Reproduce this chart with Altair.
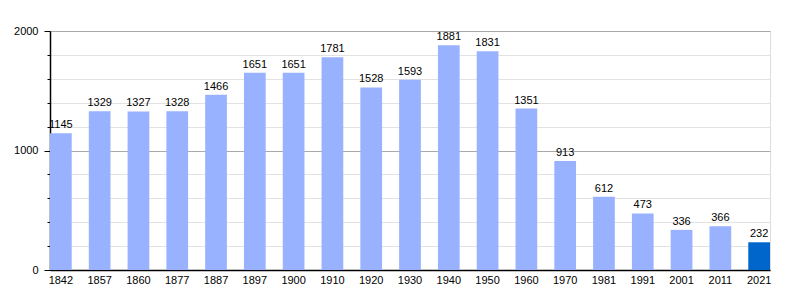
import altair as alt
import pandas as pd

years = ["1842", "1857", "1860", "1877", "1887", "1897", "1900", "1910", "1920", "1930",
         "1940", "1950", "1960", "1970", "1981", "1991", "2001", "2011", "2021"]
population = [1145, 1329, 1327, 1328, 1466, 1651, 1651, 1781, 1528, 1593,
              1881, 1831, 1351, 913, 612, 473, 336, 366, 232]
highlight = [False] * 18 + [True]
y_tick_values = [0, 200, 400, 600, 800, 1000, 1200, 1400, 1600, 1800, 2000]

df = pd.DataFrame({"year": years, "pop": population, "hl": highlight})

FONT = "Liberation Sans"

x_axis = alt.Axis(labelAngle=0, ticks=False, domainColor="black", domainWidth=1.5,
                  labelFontSize=11, labelColor="black", labelFont=FONT, labelPadding=4)
x_scale = alt.Scale(paddingInner=0.44, paddingOuter=0.0)

y_axis = alt.Axis(
    values=y_tick_values,
    labelExpr="datum.value % 1000 == 0 ? datum.label : ''",
    format="d",
    grid=True,
    gridColor=alt.condition("datum.value % 1000 == 0", alt.value("#aaaaaa"), alt.value("#e2e2e2")),
    tickSize=alt.condition("datum.value % 1000 == 0", alt.value(6), alt.value(3)),
    tickColor="black",
    domainColor="black",
    domainWidth=1.5,
    labelFontSize=11,
    labelColor="black",
    labelFont=FONT,
    labelPadding=6,
)
y_scale = alt.Scale(domain=[0, 2000], nice=False)

bars = alt.Chart(df).mark_bar().encode(
    x=alt.X("year:N", sort=years, title=None, scale=x_scale, axis=x_axis),
    y=alt.Y("pop:Q", title=None, scale=y_scale, axis=y_axis),
    color=alt.Color("hl:N", scale=alt.Scale(domain=[False, True], range=["#99b2ff", "#0066cc"]),
                    legend=None),
)

labels = alt.Chart(df).mark_text(baseline="bottom", dy=-3, fontSize=11, font=FONT,
                                 color="black").encode(
    x=alt.X("year:N", sort=years, title=None, scale=x_scale, axis=x_axis),
    y=alt.Y("pop:Q", title=None, scale=y_scale, axis=y_axis),
    text=alt.Text("pop:Q", format="d"),
)

chart = alt.layer(bars, labels).properties(
    width=720, height=239,
    autosize=alt.AutoSizeParams(type="none"),
    padding={"left": 50, "top": 31, "right": 30, "bottom": 30},
).configure_view(stroke=None).configure(background="white")

chart.save("out.html", embed_options={"renderer": "svg", "actions": False})
